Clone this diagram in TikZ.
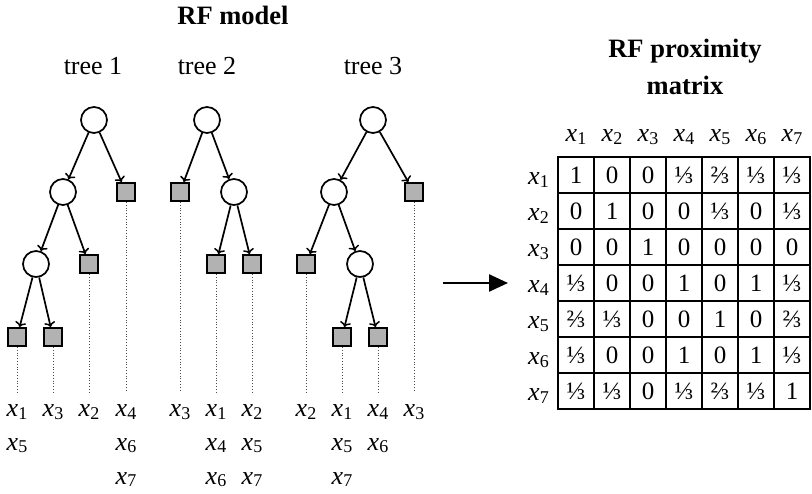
\documentclass[tikz,border=0pt]{standalone}
\usepackage{fontspec}
\setmainfont{Liberation Serif}
\usetikzlibrary{arrows.meta}
\newcommand\xv[1]{\textit{x}\kern0.2pt\raisebox{-2.5pt}{\fontsize{18}{18}\selectfont #1}}
\begin{document}
\begin{tikzpicture}[x=1pt,y=-1pt,
  inner/.style={circle,draw,line width=1.7pt,minimum size=26pt,inner sep=0pt},
  leaf/.style={rectangle,draw,line width=2pt,fill=black!30,minimum size=18pt,inner sep=0pt},
  arr/.style={line width=1.7pt,-{To[length=5pt,width=11pt,line width=1.5pt]}},
  leafline/.style={dotted,line width=0.8pt,black!70},
  lbl/.style={font=\fontsize{26}{30}\selectfont,anchor=base,inner sep=0pt},
  ttl/.style={font=\fontsize{26.5}{30}\selectfont\bfseries,anchor=base,inner sep=0pt},
  cell/.style={draw,line width=1.1pt,minimum size=36pt,inner sep=0pt,font=\fontsize{25}{29}\selectfont,text height=16.5pt,text depth=0pt}
]
\useasboundingbox (0,0) rectangle (812,494);
\coordinate (bl) at (0,392);

% titles
\node[ttl] (t-rf) at (233,25) {RF model};
\node[lbl] (t1) at (93,75) {tree 1};
\node[lbl] (t2) at (207,75) {tree 2};
\node[lbl] (t3) at (373,75) {tree 3};
\node[ttl] (t-prox1) at (685,58) {RF proximity};
\node[ttl] (t-prox2) at (685,95) {matrix};

% tree 1
\node[inner] (a1) at (94,120) {};
\node[inner] (a2) at (63,192) {};
\node[leaf]  (a3) at (126,192) {};
\node[inner] (a4) at (36,264) {};
\node[leaf]  (a5) at (89,264) {};
\node[leaf]  (a6) at (17,337) {};
\node[leaf]  (a7) at (53,337) {};
\draw[arr] (a1) -- (a2);
\draw[arr] (a1) -- (a3);
\draw[arr] (a2) -- (a4);
\draw[arr] (a2) -- (a5);
\draw[arr] (a4) -- (a6);
\draw[arr] (a4) -- (a7);

% tree 2
\node[inner] (b1) at (207,120) {};
\node[leaf]  (b2) at (180,192) {};
\node[inner] (b3) at (234,192) {};
\node[leaf]  (b4) at (216,264) {};
\node[leaf]  (b5) at (252,264) {};
\draw[arr] (b1) -- (b2);
\draw[arr] (b1) -- (b3);
\draw[arr] (b3) -- (b4);
\draw[arr] (b3) -- (b5);

% tree 3
\node[inner] (c1) at (373,120) {};
\node[inner] (c2) at (334,192) {};
\node[leaf]  (c3) at (414,192) {};
\node[leaf]  (c4) at (306,264) {};
\node[inner] (c5) at (360,264) {};
\node[leaf]  (c6) at (342,337) {};
\node[leaf]  (c7) at (378,337) {};
\draw[arr] (c1) -- (c2);
\draw[arr] (c1) -- (c3);
\draw[arr] (c2) -- (c4);
\draw[arr] (c2) -- (c5);
\draw[arr] (c5) -- (c6);
\draw[arr] (c5) -- (c7);

% dotted leaf lines
\foreach \n in {a3,a5,a6,a7,b2,b4,b5,c3,c4,c6,c7}
  \draw[leafline] (\n.south) -- (\n.south |- bl);

% leaf labels
\node[lbl] (la6a) at (17,417) {\xv{1}};
\node[lbl] (la6b) at (17,450) {\xv{5}};
\node[lbl] (la7a) at (53,417) {\xv{3}};
\node[lbl] (la5a) at (89,417) {\xv{2}};
\node[lbl] (la3a) at (126,417) {\xv{4}};
\node[lbl] (la3b) at (126,450) {\xv{6}};
\node[lbl] (la3c) at (126,484) {\xv{7}};

\node[lbl] (lb2a) at (180,417) {\xv{3}};
\node[lbl] (lb4a) at (216,417) {\xv{1}};
\node[lbl] (lb4b) at (216,450) {\xv{4}};
\node[lbl] (lb4c) at (216,484) {\xv{6}};
\node[lbl] (lb5a) at (252,417) {\xv{2}};
\node[lbl] (lb5b) at (252,450) {\xv{5}};
\node[lbl] (lb5c) at (252,484) {\xv{7}};

\node[lbl] (lc4a) at (306,417) {\xv{2}};
\node[lbl] (lc6a) at (342,417) {\xv{1}};
\node[lbl] (lc6b) at (342,450) {\xv{5}};
\node[lbl] (lc6c) at (342,484) {\xv{7}};
\node[lbl] (lc7a) at (378,417) {\xv{4}};
\node[lbl] (lc7b) at (378,450) {\xv{6}};
\node[lbl] (lc3a) at (414,417) {\xv{3}};

% arrow
\coordinate (ar0) at (443,283);
\coordinate (ar1) at (508,283);
\draw[line width=2.5pt,-{Triangle[length=19pt,width=17pt]}] (ar0) -- (ar1);

% matrix
\foreach \j in {1,...,7} {
  \node[lbl] (h\j) at ({576+36*(\j-1)},142) {\xv{\j}};
  \node[lbl,anchor=base east] (r\j) at (549,{185+36*(\j-1)}) {\xv{\j}};
}
\foreach \row [count=\i] in {
  {1,0,0,⅓,⅔,⅓,⅓},
  {0,1,0,0,⅓,0,⅓},
  {0,0,1,0,0,0,0},
  {⅓,0,0,1,0,1,⅓},
  {⅔,⅓,0,0,1,0,⅔},
  {⅓,0,0,1,0,1,⅓},
  {⅓,⅓,0,⅓,⅔,⅓,1}} {
  \foreach \v [count=\j] in \row {
    \node[cell] (m\i\j) at ({576+36*(\j-1)},{175+36*(\i-1)}) {\v};
  }
}
\end{tikzpicture}
\end{document}
